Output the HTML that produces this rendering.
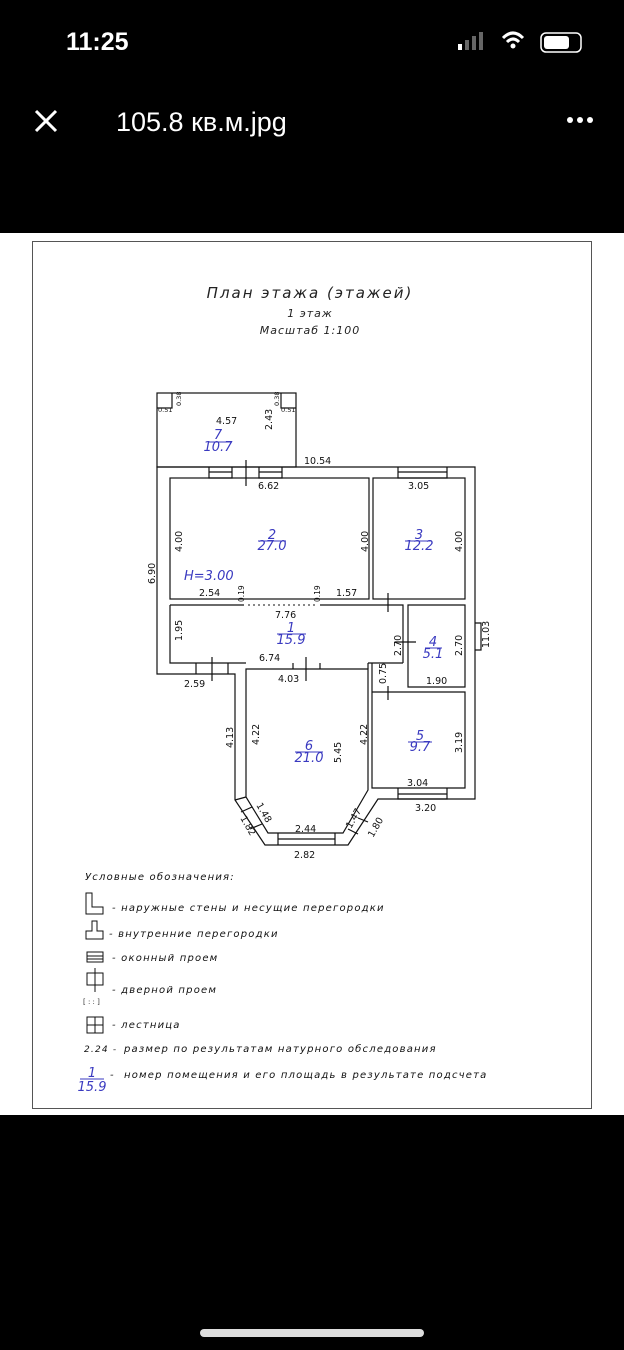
<!DOCTYPE html>
<html><head><meta charset="utf-8"><style>
html,body{margin:0;padding:0;background:#000;width:624px;height:1350px;overflow:hidden}
svg{display:block}
.d{font-family:"DejaVu Sans","Liberation Sans",sans-serif;font-size:9.5px;fill:#111}
.r{font-family:"DejaVu Sans","Liberation Sans",sans-serif;font-size:13px;fill:#3a3ac0;font-style:italic}
.t{font-family:"DejaVu Sans","Liberation Sans",sans-serif;font-style:italic;fill:#222}
.l{font-family:"DejaVu Sans","Liberation Sans",sans-serif;font-style:italic;font-size:10px;fill:#111;letter-spacing:1.2px}
</style></head><body>
<svg width="624" height="1350" viewBox="0 0 624 1350">
<rect x="0" y="0" width="624" height="1350" fill="#000"/>
<text x="66" y="50" font-family="Liberation Sans" font-weight="bold" font-size="25" fill="#fff">11:25</text>
<g fill="#fff"><rect x="458" y="44" width="4" height="6"/><rect x="465" y="40" width="4" height="10" fill="#666"/><rect x="472" y="36" width="4" height="14" fill="#666"/><rect x="479" y="32" width="4" height="18" fill="#666"/></g>
<path d="M503 38 Q513 28 523 38 M507 42 Q513 36 519 42" stroke="#fff" stroke-width="3" fill="none"/><circle cx="513" cy="46" r="2.5" fill="#fff"/>
<rect x="541" y="33" width="40" height="19" rx="5" fill="none" stroke="#fff" stroke-width="1.5"/><rect x="544" y="36" width="25" height="13" rx="3" fill="#fff"/>
<path d="M36 111 L56 131 M56 111 L36 131" stroke="#fff" stroke-width="3"/>
<text x="116" y="131" font-family="Liberation Sans" font-size="27" fill="#fff">105.8 кв.м.jpg</text>
<circle cx="570" cy="120" r="3" fill="#fff"/><circle cx="580" cy="120" r="3" fill="#fff"/><circle cx="590" cy="120" r="3" fill="#fff"/>
<rect x="0" y="233" width="624" height="882" fill="#fff"/>
<rect x="32.5" y="241.5" width="559" height="867" fill="none" stroke="#555" stroke-width="1"/>
<text x="310" y="298" text-anchor="middle" class="t" font-size="15" letter-spacing="2">План этажа (этажей)</text>
<text x="310" y="317" text-anchor="middle" class="t" font-size="11" letter-spacing="1">1 этаж</text>
<text x="310" y="334" text-anchor="middle" class="t" font-size="11" letter-spacing="1">Масштаб 1:100</text>
<g fill="none" stroke="#111" stroke-width="1.2">
<rect x="157" y="393" width="139" height="74"/>
<path d="M157 408 H172 V393 M281 393 V408 H296"/>
<path d="M157 467 H475 V799 H378 L348 845 H265 L235 800 V674 H157 Z"/>
<rect x="170" y="478" width="199" height="121"/>
<rect x="373" y="478" width="92" height="121"/>
<path d="M170 605 H244 M320 605 H403 V663 M170 605 V663 H246 M368 663 H403"/>
<path d="M408 605 H465 V687 H408 Z"/>
<path d="M372 663 V692 H465 V788 H372 Z"/>
<path d="M246 669 H368 V790 L343 833 H268 L246 797 Z"/>
<path d="M368 663 V669"/>
<path d="M209 467 V478 H232 V467 M209 472 H232 M259 467 V478 H282 V467 M259 472 H282"/>
<path d="M398 467 V478 H447 V467 M398 472 H447"/>
<path d="M475 623 H481 V650 H475"/>
<path d="M398 788 V799 H447 V788 M398 794 H447"/>
<path d="M278 833 V845 M335 833 V845 M278 839 H335"/>
<path d="M246 797 L235 800 M252 807 L241 812 M262 824 L250 829 M358 818 L368 822 M348 829 L358 834"/>
<path d="M246 460 V486 M388 593 V612 M395 642 H416 M212 657 V681 M306 657 V681 M388 686 V700 M196 663 V674 M228 663 V674 M293 663 V669 M320 663 V669"/>
</g>
<path d="M248 605 H318" stroke="#111" stroke-width="1" stroke-dasharray="2,3"/>
<g class="d">
<text x="216" y="424">4.57</text><text x="158" y="412" font-size="6.5">0.51</text><text x="281" y="412" font-size="6.5">0.51</text>
<text x="304" y="464">10.54</text><text x="258" y="489">6.62</text><text x="408" y="489">3.05</text>
<text x="199" y="596">2.54</text><text x="336" y="596">1.57</text><text x="275" y="618">7.76</text>
<text x="259" y="661">6.74</text><text x="278" y="682">4.03</text><text x="184" y="687">2.59</text>
<text x="426" y="684">1.90</text><text x="407" y="786">3.04</text><text x="415" y="811">3.20</text>
<text x="295" y="832">2.44</text><text x="294" y="858">2.82</text>
<text transform="translate(272,430) rotate(-90)">2.43</text>
<text transform="translate(182,552) rotate(-90)">4.00</text>
<text transform="translate(368,552) rotate(-90)">4.00</text>
<text transform="translate(462,552) rotate(-90)">4.00</text>
<text transform="translate(155,584) rotate(-90)">6.90</text>
<text transform="translate(182,641) rotate(-90)">1.95</text>
<text transform="translate(401,656) rotate(-90)">2.70</text>
<text transform="translate(462,656) rotate(-90)">2.70</text>
<text transform="translate(489,648) rotate(-90)">11.03</text>
<text transform="translate(386,684) rotate(-90)">0.75</text>
<text transform="translate(233,748) rotate(-90)">4.13</text>
<text transform="translate(259,745) rotate(-90)">4.22</text>
<text transform="translate(367,745) rotate(-90)">4.22</text>
<text transform="translate(341,763) rotate(-90)">5.45</text>
<text transform="translate(462,753) rotate(-90)">3.19</text>
<text transform="translate(256,805) rotate(60)">1.48</text>
<text transform="translate(240,818) rotate(60)">1.82</text>
<text transform="translate(351,829) rotate(-60)">1.47</text>
<text transform="translate(373,838) rotate(-60)">1.80</text>
<text transform="translate(181,406) rotate(-90)" font-size="6.5">0.38</text>
<text transform="translate(279,406) rotate(-90)" font-size="6.5">0.38</text>
<text transform="translate(244,602) rotate(-90)" font-size="7.5">0.19</text>
<text transform="translate(320,602) rotate(-90)" font-size="7.5">0.19</text>
</g>
<g class="r" text-anchor="middle">
<text x="218" y="439">7</text><text x="218" y="451">10.7</text>
<text x="272" y="539">2</text><text x="272" y="550">27.0</text>
<text x="419" y="539">3</text><text x="419" y="550">12.2</text>
<text x="291" y="632">1</text><text x="291" y="644">15.9</text>
<text x="433" y="646">4</text><text x="433" y="658">5.1</text>
<text x="420" y="740">5</text><text x="420" y="751">9.7</text>
<text x="309" y="750">6</text><text x="309" y="762">21.0</text>
</g>
<text x="184" y="580" class="r" font-size="12">H=3.00</text>
<g stroke="#3a3ac0" stroke-width="1"><path d="M208 442 H232 M258 541 H286 M405 541 H432 M277 634 H306 M425 648 H442 M408 742 H432 M295 752 H323"/></g>
<text x="85" y="880" class="l" font-size="11">Условные обозначения:</text>
<g fill="none" stroke="#111" stroke-width="1">
<path d="M86 893 V914 H103 V907 H92 V893 Z"/>
<path d="M92 921 V931 H86 V939 H103 V931 H97 V921 Z"/>
<rect x="87" y="952" width="16" height="10"/><path d="M87 956 H103 M87 959 H103"/>
<rect x="87" y="973" width="16" height="12"/><path d="M95 968 V992"/>
<rect x="87" y="1017" width="16" height="16"/><path d="M87 1025 H103 M95 1017 V1033"/>
</g>
<text x="83" y="1004" font-size="7" fill="#333" font-family="DejaVu Sans">[ : : ]</text>
<g class="l">
<text x="112" y="911">- наружные стены и несущие перегородки</text>
<text x="109" y="937">- внутренние перегородки</text>
<text x="112" y="961">- оконный проем</text>
<text x="112" y="993">- дверной проем</text>
<text x="112" y="1028">- лестница</text>
<text x="84" y="1052" font-size="9">2.24 -</text>
<text x="124" y="1052">размер по результатам натурного обследования</text>
<text x="124" y="1078">номер помещения и его площадь в результате подсчета</text>
</g>
<text x="92" y="1077" class="r" text-anchor="middle" font-size="12">1</text>
<text x="92" y="1091" class="r" text-anchor="middle" font-size="12">15.9</text>
<path d="M80 1079 H104" stroke="#3a3ac0"/>
<text x="110" y="1078" class="l">-</text>
<rect x="200" y="1329" width="224" height="8" rx="4" fill="#ddd"/>
</svg>
</body></html>
